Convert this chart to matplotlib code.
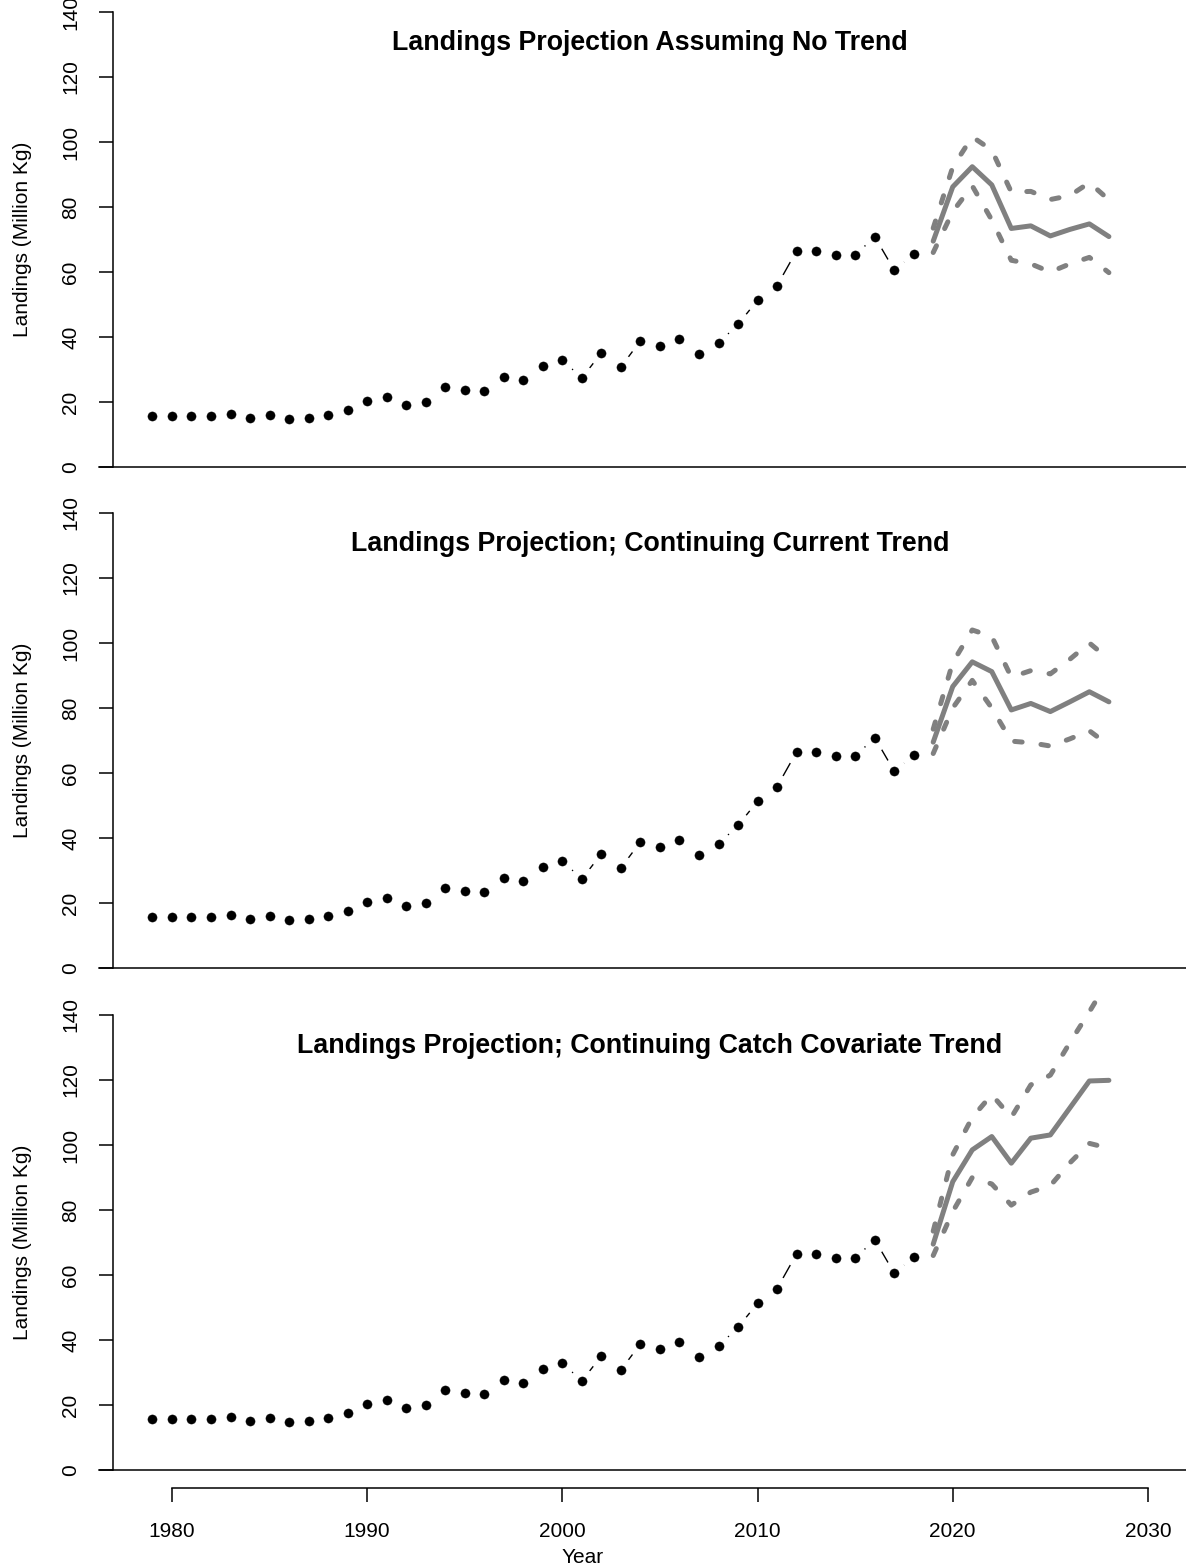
import matplotlib
matplotlib.use("Agg")
import matplotlib.pyplot as plt
from matplotlib.transforms import blended_transform_factory

plt.rcParams['font.family'] = ['Liberation Sans', 'DejaVu Sans']

# ---------------- data ----------------
hist_years = list(range(1979, 2019))
hist_landings = [15.8, 15.8, 15.8, 15.8, 16.3, 15.1, 16.0, 14.9, 15.1, 16.0,
                 17.6, 20.3, 21.5, 19.1, 20.0, 24.6, 23.8, 23.4, 27.7, 26.8,
                 31.1, 32.9, 27.4, 35.1, 30.8, 38.8, 37.2, 39.4, 34.8, 38.1,
                 43.9, 51.3, 55.8, 66.5, 66.6, 65.1, 65.1, 70.9, 60.6, 65.4]

proj_years = list(range(2019, 2029))

notrend_mid = [69.5, 86.2, 92.4, 86.8, 73.4, 74.2, 71.1, 73.1, 74.8, 70.9]
notrend_up = [73.5, 92.3, 101.6, 97.5, 84.6, 84.8, 82.3, 83.5, 87.5, 82.2]
notrend_lo = [66.0, 78.6, 86.5, 76.0, 63.6, 62.5, 60.0, 62.5, 64.5, 59.8]

current_mid = [69.5, 86.6, 94.2, 91.2, 79.4, 81.4, 78.9, 81.9, 85.0, 81.9]
current_up = [73.5, 94.0, 104.0, 102.0, 89.5, 91.5, 90.5, 95.0, 100.0, 95.0]
current_lo = [66.0, 80.0, 88.5, 80.0, 69.8, 69.3, 68.3, 70.5, 73.0, 68.5]

covar_mid = [69.5, 88.7, 98.5, 102.6, 94.4, 102.1, 103.1, 111.4, 119.7, 119.9]
covar_up = [73.5, 97.0, 108.5, 115.5, 108.5, 118.5, 121.5, 131.5, 141.0, 151.0]
covar_lo = [66.0, 79.5, 90.0, 88.0, 81.5, 85.5, 87.5, 94.5, 100.5, 99.0]

titles = ["Landings Projection Assuming No Trend",
          "Landings Projection; Continuing Current Trend",
          "Landings Projection; Continuing Catch Covariate Trend"]
y_ticks = [0, 20, 40, 60, 80, 100, 120, 140]
x_ticks = [1980, 1990, 2000, 2010, 2020, 2030]
ylab = "Landings (Million Kg)"
xlab = "Year"

projections = [(notrend_mid, notrend_up, notrend_lo),
               (current_mid, current_up, current_lo),
               (covar_mid, covar_up, covar_lo)]

# ---------------- layout ----------------
W, H = 1186, 1567
DPI = 100
fig = plt.figure(figsize=(W / DPI, H / DPI), dpi=DPI)

zero_px = [467, 968, 1470]
ppu = 3.25
ylo, yhi = -5.6, 145.6
left_px, right_px = 113, 1186
xlim = (1976.98, 2031.95)
gray = '#808080'

for i, (mid, up, lo) in enumerate(projections):
    bottom_px = zero_px[i] - ylo * ppu
    height_px = (yhi - ylo) * ppu
    ax = fig.add_axes([left_px / W, 1 - bottom_px / H,
                       (right_px - left_px) / W, height_px / H])
    ax.set_xlim(*xlim)
    ax.set_ylim(ylo, yhi)

    # historical series, R type="b" style (line with gaps around points)
    ax.plot(hist_years, hist_landings, color='black', lw=1.0, zorder=2)
    ax.plot(hist_years, hist_landings, ls='none', marker='o', ms=18.5,
            mfc='white', mec='none', zorder=2.1)
    ax.plot(hist_years, hist_landings, ls='none', marker='o', ms=6.6,
            mfc='black', mec='black', mew=0.3, zorder=2.2)

    # projections
    dash = (0, (1.5, 3.8))
    ax.plot(proj_years, up, color=gray, lw=3.6, ls=dash,
            dash_capstyle='round', zorder=3)
    ax.plot(proj_years, lo, color=gray, lw=3.6, ls=dash,
            dash_capstyle='round', zorder=3)
    ax.plot(proj_years, mid, color=gray, lw=3.6, solid_capstyle='round',
            solid_joinstyle='round', zorder=3.1)

    # zero line
    ax.axhline(0, xmin=-14 / (right_px - left_px), xmax=1, color='black',
               lw=1.1, clip_on=False, zorder=1)

    # title inside plot
    tr = blended_transform_factory(ax.transAxes, ax.transData)
    ax.text(0.5005, 128.3, titles[i], transform=tr, ha='center',
            va='baseline', fontsize=19.3, fontweight='bold')

    # spines
    for s in ['top', 'right']:
        ax.spines[s].set_visible(False)
    ax.spines['left'].set_bounds(0, 140)
    ax.spines['left'].set_linewidth(1.1)
    ax.set_yticks(y_ticks)
    ax.set_yticklabels([str(t) for t in y_ticks], rotation=90, va='center')
    ax.tick_params(axis='y', direction='out', length=10, width=1.1,
                   labelsize=15, pad=13.5)

    ax.set_ylabel(ylab, fontsize=15)
    ax.yaxis.set_label_coords(-81 / (right_px - left_px), 0.5)

    if i < 2:
        ax.spines['bottom'].set_visible(False)
        ax.set_xticks([])
    else:
        ax.spines['bottom'].set_bounds(1980, 2030)
        ax.spines['bottom'].set_linewidth(1.1)
        ax.set_xticks(x_ticks)
        ax.set_xticklabels([str(t) for t in x_ticks])
        ax.tick_params(axis='x', direction='out', length=10, width=1.1,
                       labelsize=15, pad=14.4)
        ax.set_xlabel(xlab, fontsize=15)
        ax.xaxis.set_label_coords((583 - left_px) / (right_px - left_px),
                                  -(1548 - bottom_px) / height_px)
        ax.xaxis.label.set_va('top')

fig.savefig("out.png", dpi=DPI)
